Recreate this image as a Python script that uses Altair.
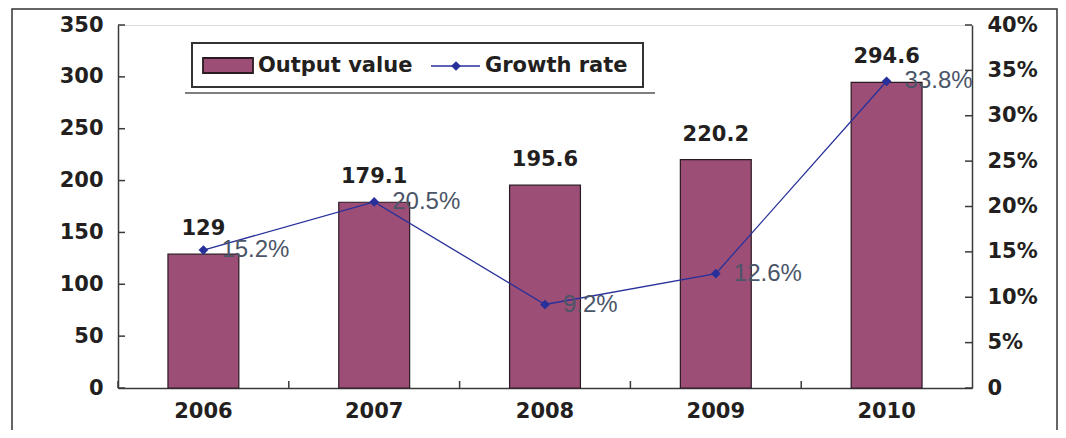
import altair as alt
import pandas as pd

years = ["2006", "2007", "2008", "2009", "2010"]
output_value = [129, 179.1, 195.6, 220.2, 294.6]
output_labels = ["129", "179.1", "195.6", "220.2", "294.6"]
growth_rate = [0.152, 0.205, 0.092, 0.126, 0.338]
growth_labels = ["15.2%", "20.5%", "9.2%", "12.6%", "33.8%"]
left_ticks = [0, 50, 100, 150, 200, 250, 300, 350]
right_ticks = [0, 0.05, 0.10, 0.15, 0.20, 0.25, 0.30, 0.35, 0.40]

df = pd.DataFrame({
    "year": years,
    "output": output_value,
    "olab": output_labels,
    "growth": growth_rate,
    "glab": growth_labels,
})
lt = pd.DataFrame({"t": left_ticks})
rt = pd.DataFrame({"t": right_ticks})
xt = pd.DataFrame({"year": years})

BOLD = "DejaVu Sans"
INK = "#231f20"
BAR = "#9c4e76"
NAVY = "#27309a"
AXC = "#3a3a3a"

xscale = alt.Scale(domain=years, paddingInner=0, paddingOuter=0)
yl = alt.Scale(domain=[0, 350], nice=False, zero=True)
yr = alt.Scale(domain=[0, 0.4], nice=False, zero=True)

xaxis = alt.Axis(title=None, labelFont=BOLD, labelFontWeight="bold", labelFontSize=21,
                 labelColor=INK, ticks=False, labelPadding=12, domainColor=AXC,
                 domainWidth=1.5, grid=False, labelAngle=0)

bars = alt.Chart(df).mark_bar(width=alt.RelativeBandSize(0.415), color=BAR,
                              stroke="#2a1a22", strokeWidth=1.2).encode(
    x=alt.X("year:N", scale=xscale, axis=xaxis),
    y=alt.Y("output:Q", scale=yl, axis=alt.Axis(
        title=None, values=left_ticks, labelFont=BOLD, labelFontWeight="bold",
        labelFontSize=21, labelColor=INK, ticks=False, labelPadding=15,
        domainColor=AXC, domainWidth=1.5, grid=False)),
)

bar_text = alt.Chart(df).mark_text(font=BOLD, fontWeight="bold", fontSize=21,
                                   color=INK, baseline="alphabetic", dy=-19).encode(
    x=alt.X("year:N", scale=xscale),
    y=alt.Y("output:Q", scale=yl),
    text="olab:N",
)

lticks = alt.Chart(lt).mark_rule(color=AXC, strokeWidth=1.5).encode(
    y=alt.Y("t:Q", scale=yl),
    x=alt.value(0), x2=alt.value(7),
)

xticks = alt.Chart(xt).mark_rule(color=AXC, strokeWidth=1.5).encode(
    x=alt.X("year:N", scale=xscale, bandPosition=0),
    y=alt.value(356), y2=alt.value(363),
)

left_group = alt.layer(bars, bar_text, lticks, xticks)

line = alt.Chart(df).mark_line(color=NAVY, strokeWidth=1.3).encode(
    x=alt.X("year:N", scale=xscale),
    y=alt.Y("growth:Q", scale=yr, axis=alt.Axis(
        title=None, orient="right", values=right_ticks, labelFont=BOLD,
        labelFontWeight="bold", labelFontSize=21, labelColor=INK, ticks=False,
        labelPadding=15, domainColor=AXC, domainWidth=1.5, grid=False,
        labelExpr="datum.value == 0 ? '0' : format(datum.value, '.0%')")),
)
pts = alt.Chart(df).mark_point(shape="diamond", filled=True, size=95, color=NAVY,
                               opacity=1).encode(
    x=alt.X("year:N", scale=xscale),
    y=alt.Y("growth:Q", scale=yr),
)
gtext = alt.Chart(df).mark_text(font="Liberation Sans", fontSize=24, color="#4b5568",
                                align="left", baseline="middle", dx=18).encode(
    x=alt.X("year:N", scale=xscale),
    y=alt.Y("growth:Q", scale=yr),
    text="glab:N",
)
rticks = alt.Chart(rt).mark_rule(color=AXC, strokeWidth=1.5).encode(
    y=alt.Y("t:Q", scale=yr),
    x=alt.value(847), x2=alt.value(854),
)

right_group = alt.layer(line, pts, gtext, rticks)

# decorations: outer frame, legend box, legend items, underline
leg = pd.DataFrame({"a": [0]})
frame = alt.Chart(leg).mark_rect(fill=None, stroke="#333333", strokeWidth=1.5).encode(
    x=alt.value(-106), x2=alt.value(939), y=alt.value(-16), y2=alt.value(430))
underline = alt.Chart(leg).mark_rule(color="#555555", strokeWidth=1.5).encode(
    x=alt.value(67), x2=alt.value(537), y=alt.value(68))
legbox = alt.Chart(leg).mark_rect(fill="white", stroke="#333333", strokeWidth=2).encode(
    x=alt.value(74), x2=alt.value(525), y=alt.value(18), y2=alt.value(62))
swatch = alt.Chart(leg).mark_rect(fill=BAR, stroke="#2a1a22", strokeWidth=1.8).encode(
    x=alt.value(85), x2=alt.value(135), y=alt.value(33), y2=alt.value(48))
t1 = alt.Chart(leg).mark_text(font=BOLD, fontWeight="bold", fontSize=21, color=INK,
                              align="left", baseline="middle", text="Output value").encode(
    x=alt.value(140), y=alt.value(41))
lline = alt.Chart(leg).mark_rule(color=NAVY, strokeWidth=1.5).encode(
    x=alt.value(313), x2=alt.value(362), y=alt.value(41))
lpt = alt.Chart(leg).mark_point(shape="diamond", filled=True, size=95, color=NAVY,
                                opacity=1).encode(x=alt.value(338), y=alt.value(41))
t2 = alt.Chart(leg).mark_text(font=BOLD, fontWeight="bold", fontSize=21, color=INK,
                              align="left", baseline="middle", text="Growth rate").encode(
    x=alt.value(367), y=alt.value(41))

deco = alt.layer(frame, underline, legbox, swatch, t1, lline, lpt, t2)

chart = alt.layer(left_group, right_group, deco).resolve_scale(y="independent").properties(
    width=854, height=363,
    autosize=alt.AutoSizeParams(type="none"),
    padding={"left": 110, "top": 17, "right": 86, "bottom": 42},
).configure_view(stroke=None).configure(background="white")

chart.save("out.html", embed_options={"renderer": "svg", "actions": False})
